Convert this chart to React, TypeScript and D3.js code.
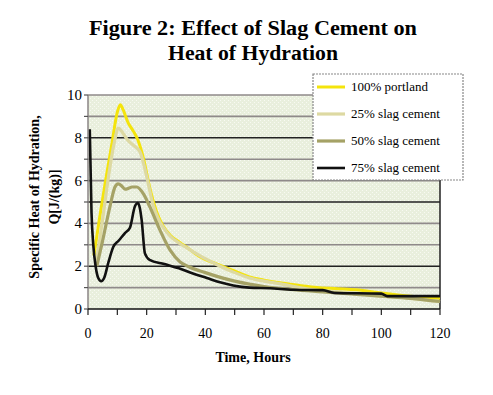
import React from 'react';
import * as d3 from 'd3';

// hours vs specific heat
const portland: [number, number][] = [
  [2, 2.5], [4, 4.3], [6, 6.0], [8, 7.6], [10, 9.2], [11, 9.55], [12, 9.3], [13.7, 8.7],
  [15.5, 8.3], [17, 7.9], [18.8, 7.1], [21, 5.7], [23.5, 4.5], [25.7, 3.85], [28, 3.45],
  [31.4, 3.1], [35, 2.75], [38, 2.45], [44, 2.1], [49.5, 1.8], [55, 1.5], [60, 1.35],
  [66.5, 1.2], [72, 1.1], [78, 1.0], [85, 0.95], [91.5, 0.9], [100, 0.75], [110, 0.6], [120, 0.5],
];
const slag25: [number, number][] = [
  [3, 2.3], [5, 4.2], [7, 6.2], [9, 7.8], [10.3, 8.45], [12, 8.2], [13.5, 7.9], [15.5, 7.65],
  [17.7, 7.35], [20, 6.2], [22, 4.95], [24, 4.2], [25.7, 3.8], [28, 3.4], [31.4, 3.05],
  [35, 2.75], [40, 2.35], [45, 2.0], [50, 1.7], [55, 1.45], [60, 1.3], [66.5, 1.15],
  [72, 1.0], [80, 0.85], [90, 0.75], [100, 0.6], [110, 0.5], [120, 0.35],
];
const slag50: [number, number][] = [
  [3, 2.0], [5, 3.2], [7.5, 4.8], [9.2, 5.7], [10.3, 5.85], [11.5, 5.75], [12.6, 5.6],
  [14, 5.65], [15, 5.7], [16.6, 5.7], [18.8, 5.4], [21, 4.8], [24.5, 3.7], [28, 2.75],
  [31.4, 2.2], [34, 2.0], [40, 1.7], [50, 1.3], [60, 1.05], [70, 0.9], [80, 0.8],
  [90, 0.7], [100, 0.6], [110, 0.5], [120, 0.35],
];
const slag75: [number, number][] = [
  [0.6, 8.4], [1.2, 4.5], [1.8, 3.0], [2.6, 2.0], [3.5, 1.45], [4.5, 1.3], [5.5, 1.45],
  [7, 2.2], [8.6, 2.9], [10.5, 3.2], [12.6, 3.55], [14.3, 3.8], [16, 4.8], [17, 4.95],
  [17.7, 4.7], [18.3, 4.15], [19.4, 2.6], [21, 2.3], [26, 2.1], [31, 1.9], [36, 1.65],
  [40.5, 1.45], [45, 1.25], [49.5, 1.1], [55, 1.0], [62, 0.97], [70, 0.9], [80, 0.88],
  [84, 0.75], [100, 0.72], [102, 0.6], [120, 0.6],
];

const seriesNames = ['100% portland', '25% slag cement', '50% slag cement', '75% slag cement'];
const seriesData = [portland, slag25, slag50, slag75];
const seriesColors = ['#f4e40c', '#ddd9a2', '#a5a266', '#111111'];
const seriesWidths = [3, 3.2, 3.2, 2.6];

const xTicks = [0, 20, 40, 60, 80, 100, 120];
const yTicks = [0, 2, 4, 6, 8, 10];

const W = 493, H = 395;
const m = { left: 88, right: 440, top: 95, bottom: 309 };

export default function App() {
  const x = d3.scaleLinear().domain([0, 120]).range([m.left, m.right]);
  const y = d3.scaleLinear().domain([0, 10]).range([m.bottom, m.top]);
  const line = d3.line<[number, number]>()
    .x(d => x(d[0]))
    .y(d => y(d[1]))
    .curve(d3.curveMonotoneX);

  const serif = "'Liberation Serif', 'Times New Roman', serif";
  const grid = d3.range(1, 11);
  const minor = d3.range(0, 121, 10);

  return (
    <svg width={W} height={H} style={{ position: 'absolute', left: 0, top: 0, background: '#fff' }}>
      <defs>
        <pattern id="bg" width="4" height="4" patternUnits="userSpaceOnUse">
          <rect width="4" height="4" fill="#e9efdd" />
          <rect x="0" y="0" width="1" height="1" fill="#f8faf2" />
          <rect x="2" y="2" width="1" height="1" fill="#f8faf2" />
        </pattern>
      </defs>

      {/* title */}
      <text x={253} y={35} textAnchor="middle" fontFamily={serif} fontWeight="bold" fontSize={20}
        textLength={328} lengthAdjust="spacingAndGlyphs">Figure 2: Effect of Slag Cement on</text>
      <text x={253} y={60} textAnchor="middle" fontFamily={serif} fontWeight="bold" fontSize={20}
        textLength={170} lengthAdjust="spacingAndGlyphs">Heat of Hydration</text>

      {/* plot area */}
      <rect x={m.left} y={m.top} width={m.right - m.left} height={m.bottom - m.top} fill="url(#bg)" />
      {grid.map(v => (
        <line key={v} x1={m.left} x2={m.right} y1={y(v)} y2={y(v)}
          stroke={v % 3 === 2 ? '#222' : '#8f8a8a'} strokeWidth={1.6} />
      ))}
      <line x1={m.right} x2={m.right} y1={m.top} y2={m.bottom} stroke="#222" strokeWidth={1.5} />

      {seriesData.map((s, i) => (
        <path key={i} d={line(s) ?? ''} fill="none" stroke={seriesColors[i]}
          strokeWidth={seriesWidths[i]} strokeLinejoin="round" />
      ))}

      {/* axes */}
      <line x1={m.left} x2={m.left} y1={m.top} y2={m.bottom} stroke="#8a8585" strokeWidth={1.5} />
      <line x1={m.left} x2={m.right} y1={m.bottom} y2={m.bottom} stroke="#111" strokeWidth={1.5} />
      {grid.concat([0]).map(v => (
        <line key={v} x1={m.left - 4} x2={m.left} y1={y(v)} y2={y(v)} stroke="#555" strokeWidth={1.2} />
      ))}
      {minor.map(v => (
        <line key={v} x1={x(v)} x2={x(v)} y1={m.bottom} y2={m.bottom + 6} stroke="#222" strokeWidth={1.2} />
      ))}
      {yTicks.map(v => (
        <text key={v} x={m.left - 6} y={y(v) + 5} textAnchor="end" fontFamily={serif} fontSize={15}>{v}</text>
      ))}
      {xTicks.map(v => (
        <text key={v} x={x(v)} y={338} textAnchor="middle" fontFamily={serif} fontSize={14}>{v}</text>
      ))}

      <text x={253} y={362} textAnchor="middle" fontFamily={serif} fontWeight="bold" fontSize={14}>Time, Hours</text>

      <g transform="translate(39,197) rotate(-90)">
        <text x={0} y={0} textAnchor="middle" fontFamily={serif} fontWeight="bold" fontSize={14}>Specific Heat of Hydration,</text>
        <text x={0} y={20} textAnchor="middle" fontFamily={serif} fontWeight="bold" fontSize={14}>Q[J/(kg)]</text>
      </g>

      {/* legend */}
      <g>
        <rect x={313} y={74} width={150} height={106} fill="#fff" stroke="#888" strokeWidth={1.2} strokeDasharray="2,1" />
        {seriesNames.map((n, i) => {
          const ry = 87 + i * 27;
          return (
            <g key={n}>
              <line x1={317} x2={345} y1={ry} y2={ry} stroke={seriesColors[i]} strokeWidth={seriesWidths[i]} />
              <text x={351} y={ry + 4} fontFamily={serif} fontSize={13}>{n}</text>
            </g>
          );
        })}
      </g>
    </svg>
  );
}
